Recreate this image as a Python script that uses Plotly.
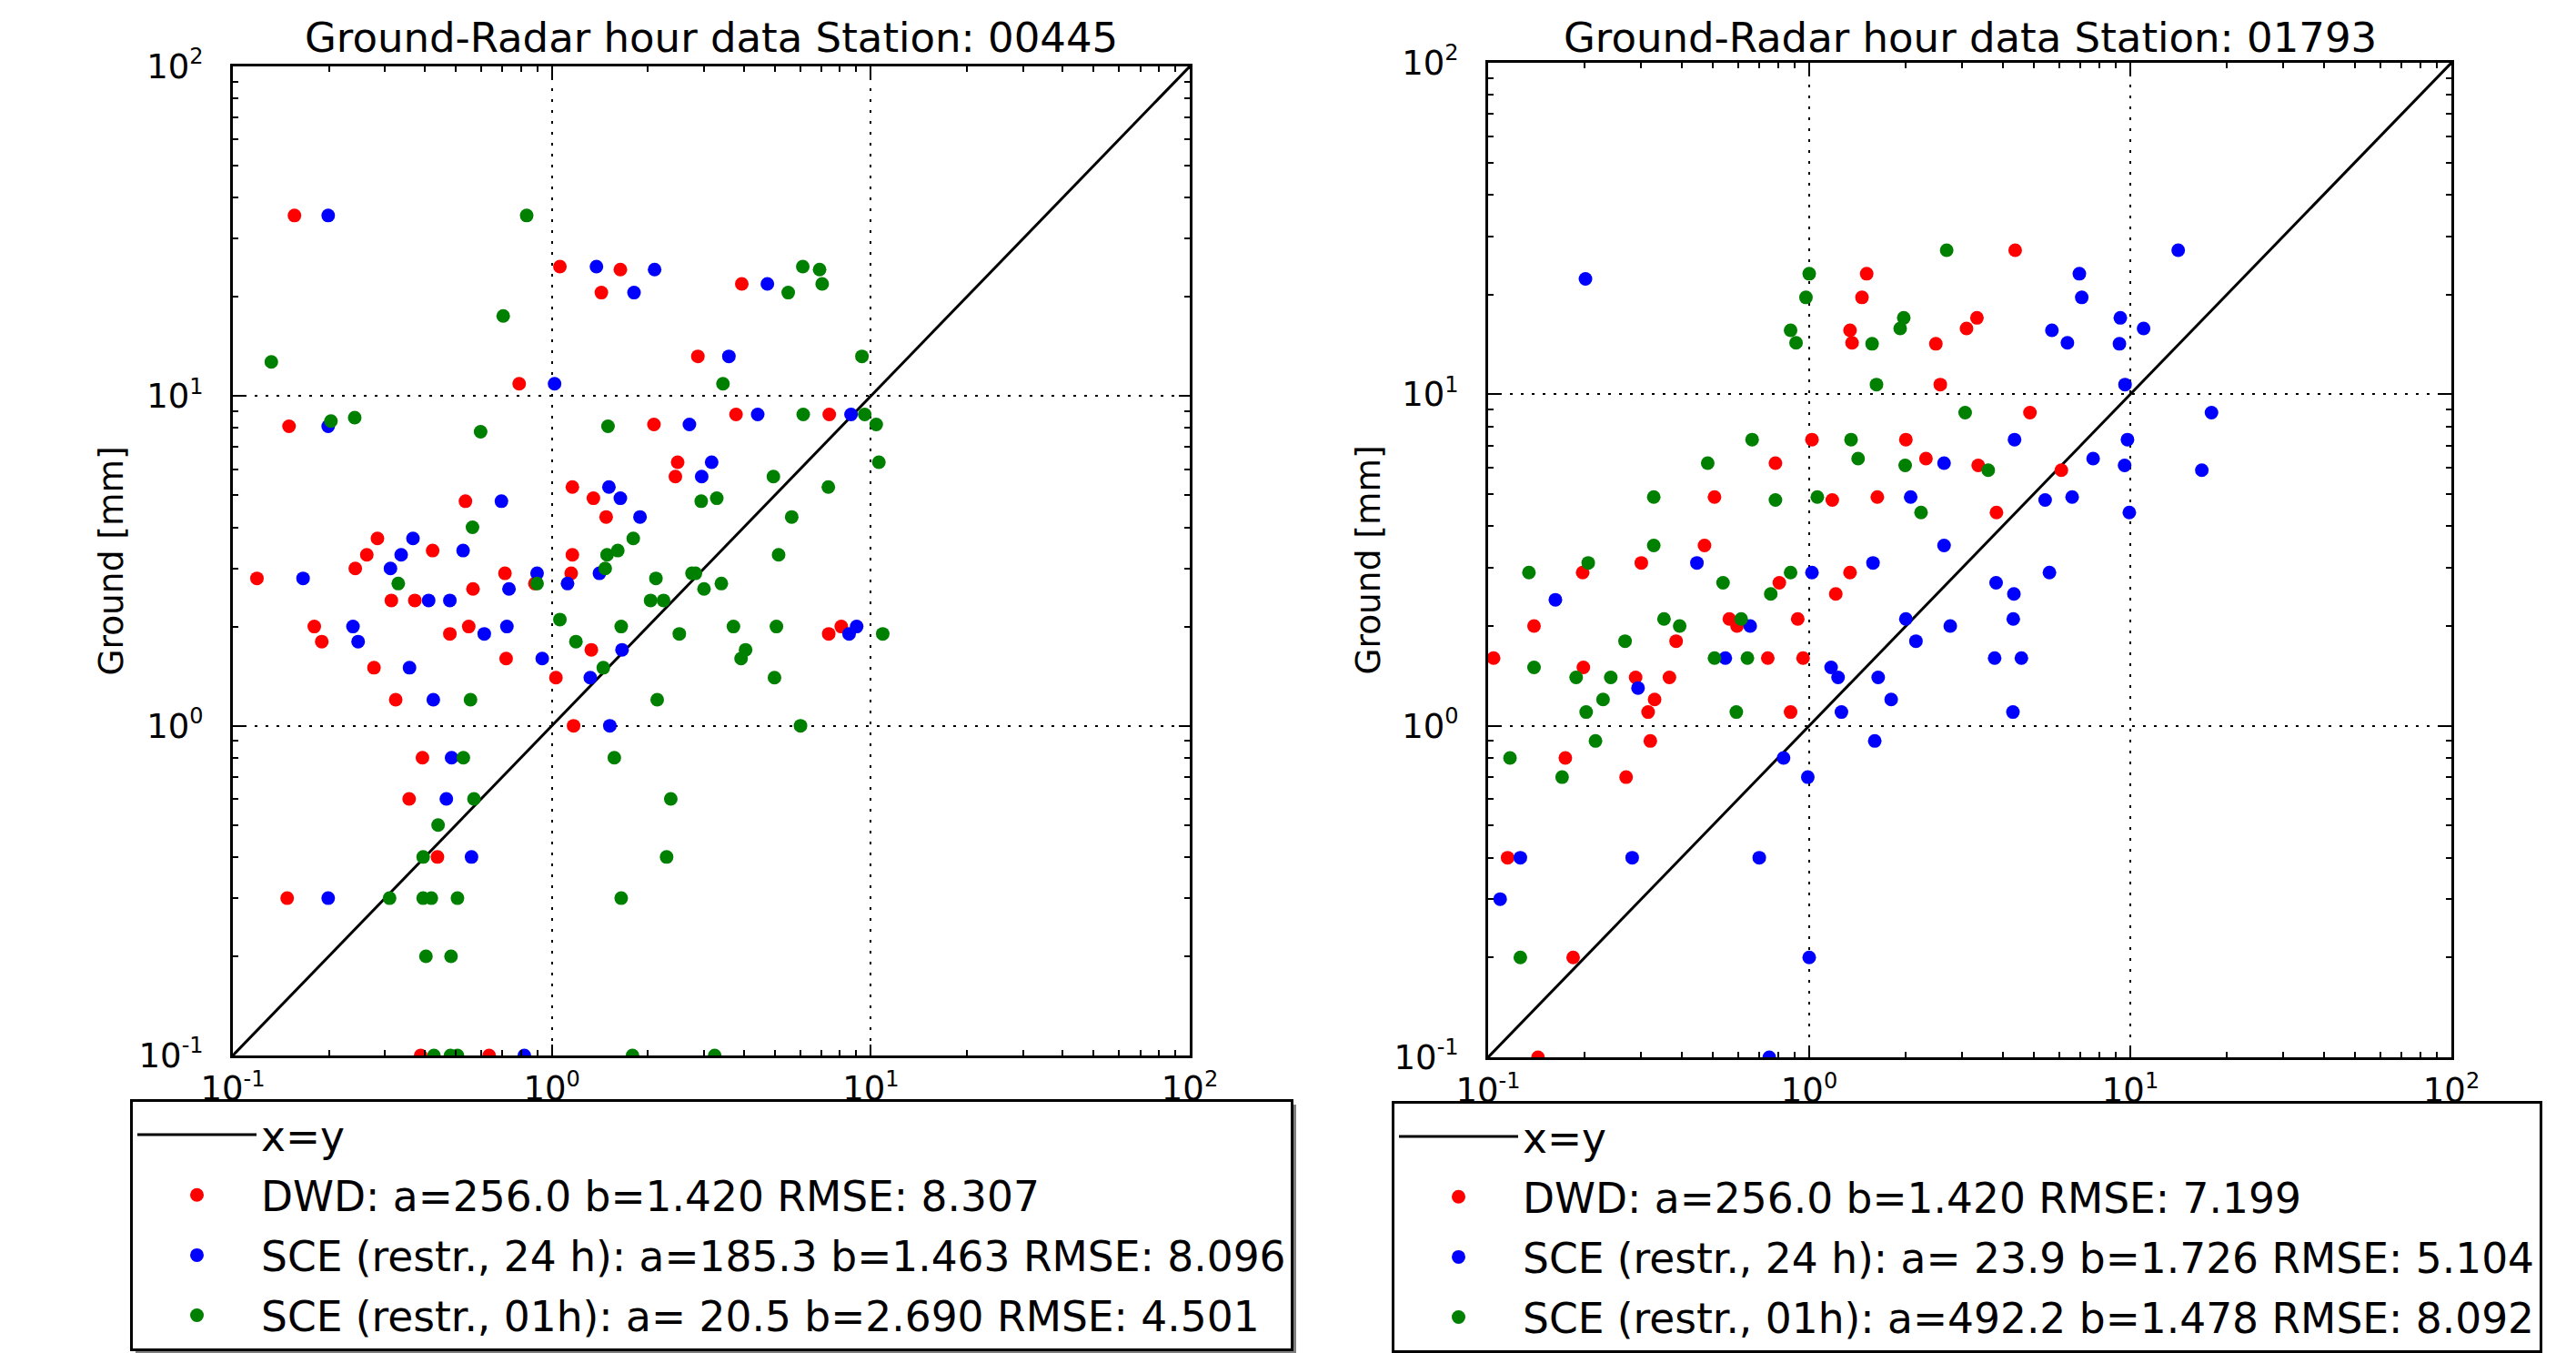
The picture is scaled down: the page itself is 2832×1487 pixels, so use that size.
import plotly.graph_objects as go

W, H = 2832, 1487
PAGE_OFFSET = 8  # default body margin of the html page
FONT = "DejaVu Sans"

# ---------------- data ----------------
titles = ["Ground-Radar hour data Station: 00445", "Ground-Radar hour data Station: 01793"]
ylabel = "Ground [mm]"

names_left = ["x=y",
              "DWD: a=256.0 b=1.420 RMSE: 8.307",
              "SCE (restr., 24 h): a=185.3 b=1.463 RMSE: 8.096",
              "SCE (restr., 01h): a= 20.5 b=2.690 RMSE: 4.501"]
names_right = ["x=y",
               "DWD: a=256.0 b=1.420 RMSE: 7.199",
               "SCE (restr., 24 h): a= 23.9 b=1.726 RMSE: 5.104",
               "SCE (restr., 01h): a=492.2 b=1.478 RMSE: 8.092"]

diag = [0.1, 100]

# Station 00445
dwd1_x = [0.156, 1.06, 1.64, 1.43, 3.94, 2.87, 0.79, 0.150, 2.09, 3.78, 7.41, 2.48, 2.44, 1.16, 1.35,
          0.536, 1.48, 0.284, 0.263, 0.423, 1.16, 0.242, 0.119, 0.713, 1.15, 0.885, 0.566, 0.314,
          0.372, 0.180, 0.549, 0.479, 8.08, 7.38, 0.190, 0.277, 0.719, 1.33, 1.03, 0.324, 1.17,
          0.393, 0.357, 0.438, 0.148, 0.388, 0.636]
dwd1_y = [35.3, 24.7, 24.2, 20.6, 21.9, 13.2, 10.9, 8.1, 8.2, 8.8, 8.8, 6.3, 5.7, 5.3, 4.9,
          4.8, 4.3, 3.7, 3.3, 3.4, 3.3, 3.0, 2.8, 2.9, 2.9, 2.7, 2.6, 2.4,
          2.4, 2.0, 2.0, 1.9, 2.0, 1.9, 1.8, 1.5, 1.6, 1.7, 1.4, 1.2, 1.0,
          0.8, 0.6, 0.4, 0.3, 0.1, 0.1]

sce24_1_x = [0.199, 1.38, 2.10, 1.81, 4.74, 3.59, 1.02, 0.199, 2.70, 4.42, 8.67, 3.17, 2.95, 1.51,
             1.64, 0.695, 1.89, 0.367, 0.337, 0.527, 0.312, 0.166, 0.899, 1.41, 1.12, 0.734, 0.411,
             0.479, 0.238, 0.723, 0.614, 9.03, 8.55, 0.247, 0.358, 0.933, 1.66, 1.32, 0.425, 1.52,
             0.485, 0.467, 0.560, 0.199, 0.82]
sce24_1_y = [35.3, 24.7, 24.2, 20.6, 21.9, 13.2, 10.9, 8.1, 8.2, 8.8, 8.8, 6.3, 5.7, 5.3,
             4.9, 4.8, 4.3, 3.7, 3.3, 3.4, 3.0, 2.8, 2.9, 2.9, 2.7, 2.6, 2.4,
             2.4, 2.0, 2.0, 1.9, 2.0, 1.9, 1.8, 1.5, 1.6, 1.7, 1.4, 1.2, 1.0,
             0.8, 0.6, 0.4, 0.3, 0.1]

sce01_1_x = [0.834, 6.12, 6.91, 7.04, 5.51, 0.704, 0.132, 9.38, 3.44, 0.203, 0.241, 0.598, 1.50,
             6.14, 9.57, 10.4, 10.6, 4.95, 7.36, 2.94, 3.29, 5.65, 0.564, 1.80, 1.49, 1.61, 5.14,
             1.47, 0.330, 0.899, 2.12, 2.75, 2.82, 3.00, 3.40, 2.04, 2.24, 1.06, 1.65, 3.71, 5.06,
             2.51, 10.9, 1.19, 4.05, 3.92, 1.45, 4.99, 0.556, 2.14, 6.02, 0.528, 1.57, 0.570, 2.36,
             0.440, 0.395, 2.29, 0.310, 0.395, 0.419, 0.506, 1.65, 0.403, 0.483, 0.427, 0.481,
             0.506, 1.79, 3.24]
sce01_1_y = [35.3, 24.7, 24.2, 21.9, 20.6, 17.5, 12.7, 13.2, 10.9, 8.4, 8.6, 7.8, 8.1,
             8.8, 8.8, 8.2, 6.3, 5.7, 5.3, 4.8, 4.9, 4.3, 4.0, 3.7, 3.3, 3.4, 3.3,
             3.0, 2.7, 2.7, 2.8, 2.9, 2.9, 2.6, 2.7, 2.4, 2.4, 2.1, 2.0, 2.0, 2.0,
             1.9, 1.9, 1.8, 1.7, 1.6, 1.5, 1.4, 1.2, 1.2, 1.0, 0.8, 0.8, 0.6, 0.6,
             0.5, 0.4, 0.4, 0.3, 0.3, 0.3, 0.3, 0.3, 0.2, 0.2, 0.1, 0.1,
             0.1, 0.1, 0.1]

# Station 01793
dwd2_x = [4.38, 1.51, 1.46, 1.34, 3.33, 3.09, 1.36, 2.48, 2.56, 4.87, 1.02, 2.00, 0.785, 2.31, 3.36,
          6.10, 0.507, 1.18, 1.63, 3.83, 0.472, 0.300, 0.197, 1.34, 0.807, 1.21, 0.139, 0.564,
          0.596, 0.921, 0.385, 0.104, 0.743, 0.957, 0.198, 0.288, 0.367, 0.330, 0.315, 0.875,
          0.320, 0.174, 0.269, 0.115, 0.184, 0.143]
dwd2_y = [27.2, 23.1, 19.6, 15.6, 17.0, 15.8, 14.3, 14.2, 10.7, 8.8, 7.3, 7.3, 6.2, 6.4, 6.1,
          5.9, 4.9, 4.8, 4.9, 4.4, 3.5, 3.1, 2.9, 2.9, 2.7, 2.5, 2.0, 2.1,
          2.0, 2.1, 1.8, 1.6, 1.6, 1.6, 1.5, 1.4, 1.4, 1.2, 1.1, 1.1,
          0.9, 0.8, 0.7, 0.4, 0.2, 0.1]

sce24_2_x = [0.201, 14.1, 6.94, 7.06, 9.31, 5.70, 11.0, 6.37, 9.25, 9.63, 17.9, 4.36, 9.80, 2.63,
             7.66, 9.60, 16.7, 2.07, 5.43, 6.59, 9.93, 2.63, 0.447, 1.58, 0.162, 1.02, 5.60, 3.82,
             4.34, 2.0, 2.75, 4.32, 0.655, 2.15, 0.548, 3.78, 4.58, 1.17, 1.23, 1.64, 0.293, 1.80,
             1.26, 4.31, 1.60, 0.832, 0.99, 0.126, 0.281, 0.699, 0.109, 1.0, 0.751]
sce24_2_y = [22.3, 27.2, 23.1, 19.6, 17.0, 15.6, 15.8, 14.3, 14.2, 10.7, 8.8, 7.3, 7.3, 6.2,
             6.4, 6.1, 5.9, 4.9, 4.8, 4.9, 4.4, 3.5, 3.1, 3.1, 2.4, 2.9, 2.9, 2.7,
             2.5, 2.1, 2.0, 2.1, 2.0, 1.8, 1.6, 1.6, 1.6, 1.5, 1.4, 1.4, 1.3, 1.2,
             1.1, 1.1, 0.9, 0.8, 0.7, 0.4, 0.4, 0.4, 0.3, 0.2, 0.1]

sce01_2_x = [2.68, 1.0, 0.977, 1.97, 1.92, 0.875, 0.91, 1.57, 1.62, 3.06, 0.664, 1.35, 0.483, 1.42,
             1.99, 3.61, 0.328, 0.785, 1.06, 2.23, 0.328, 0.205, 0.134, 0.875, 0.539, 0.759, 0.353,
             0.395, 0.614, 0.267, 0.507, 0.642, 0.139, 0.188, 0.241, 0.228, 0.202, 0.593, 0.216,
             0.117, 0.170, 0.126]
sce01_2_y = [27.2, 23.1, 19.6, 17.0, 15.8, 15.6, 14.3, 14.2, 10.7, 8.8, 7.3, 7.3, 6.2, 6.4,
             6.1, 5.9, 4.9, 4.8, 4.9, 4.4, 3.5, 3.1, 2.9, 2.9, 2.7, 2.5, 2.1,
             2.0, 2.1, 1.8, 1.6, 1.6, 1.5, 1.4, 1.4, 1.2, 1.1, 1.1, 0.9,
             0.8, 0.7, 0.2]

tick_vals = [0.1, 1, 10, 100]
tick_exps = ["-1", "0", "1", "2"]
tick_text = ['10<sup><span style="font-size:24px">%s</span></sup>' % e for e in tick_exps]
minor_vals = [m * e for e in (0.1, 1, 10) for m in range(2, 10)]

colors = ["red", "blue", "green"]

# ---------------- layout geometry (screen pixels) ----------------
panels = [
    dict(x0=256, x1=1308, y0=73, y1=1160, legend=(143, 1208), legend_r=1419, ylab_x=121),
    dict(x0=1636, x1=2695, y0=69, y1=1162, legend=(1530, 1210), legend_r=2786, ylab_x=1503),
]

def px(x):
    return (x - PAGE_OFFSET) / W

def py(y):
    return 1 - (y - PAGE_OFFSET) / H

fig = go.Figure()

series = [
    (names_left, [(dwd1_x, dwd1_y), (sce24_1_x, sce24_1_y), (sce01_1_x, sce01_1_y)]),
    (names_right, [(dwd2_x, dwd2_y), (sce24_2_x, sce24_2_y), (sce01_2_x, sce01_2_y)]),
]

for i, (names, data) in enumerate(series):
    xa = "x" if i == 0 else "x2"
    ya = "y" if i == 0 else "y2"
    lg = "legend" if i == 0 else "legend2"
    fig.add_trace(go.Scatter(x=diag, y=diag, mode="lines", name=names[0],
                             line=dict(color="black", width=3), xaxis=xa, yaxis=ya,
                             legend=lg, legendgroup=f"{i}a"))
    for k, ((sx, sy), c) in enumerate(zip(data, colors)):
        fig.add_trace(go.Scatter(x=sx, y=sy, mode="markers", name=names[k + 1],
                                 marker=dict(color=c, size=15, line=dict(width=0)),
                                 xaxis=xa, yaxis=ya, legend=lg, legendgroup=f"{i}{k}"))


def axis(domain, anchor, standoff):
    return dict(
        type="log", range=[-1, 2], domain=domain, anchor=anchor,
        showline=True, linecolor="black", linewidth=3, mirror="allticks",
        ticks="inside", ticklen=12, tickwidth=2, tickcolor="black",
        tickmode="array", tickvals=tick_vals, ticktext=tick_text,
        tickfont=dict(family=FONT, size=37, color="black"),
        ticklabelstandoff=standoff,
        showgrid=True, gridcolor="black", gridwidth=2, griddash="3px,9px",
        minor=dict(tickmode="array", tickvals=minor_vals, ticks="inside", ticklen=6,
                   tickwidth=2, tickcolor="black", showgrid=False),
        zeroline=False, automargin=False,
    )

layout = dict(width=W, height=H, margin=dict(l=0, r=0, t=0, b=0, autoexpand=False),
              paper_bgcolor="white", plot_bgcolor="white", showlegend=True,
              font=dict(family=FONT, color="black"))

annotations = []
shapes = []
for i, p in enumerate(panels):
    sfx = "" if i == 0 else "2"
    xd = [px(p["x0"]), px(p["x1"])]
    yd = [py(p["y1"]), py(p["y0"])]
    layout["xaxis" + sfx] = axis(xd, "y" + sfx, 2)
    layout["yaxis" + sfx] = axis(yd, "x" + sfx, 22)
    lx, ly = p["legend"]
    layout["legend" + sfx] = dict(
        x=px(lx), y=py(ly), xanchor="left", yanchor="top",
        bgcolor="white", bordercolor="black", borderwidth=3,
        font=dict(family=FONT, size=45.5, color="black"),
        itemwidth=131, tracegroupgap=4, traceorder="grouped",
    )
    # legend drop shadow
    shapes.append(dict(type="rect", xref="paper", yref="paper",
                       x0=px(lx + 6), x1=px(p["legend_r"] + 6), y0=py(ly + 300), y1=py(ly + 6),
                       fillcolor="#7f7f7f", line=dict(width=0), layer="below"))
    annotations.append(dict(text=titles[i], x=(xd[0] + xd[1]) / 2, y=py(42), xref="paper",
                            yref="paper", xanchor="center", yanchor="middle", showarrow=False,
                            font=dict(family=FONT, size=45, color="black")))
    annotations.append(dict(text=ylabel, x=px(p["ylab_x"]), y=(yd[0] + yd[1]) / 2, xref="paper",
                            yref="paper", xanchor="center", yanchor="middle", showarrow=False,
                            textangle=-90, font=dict(family=FONT, size=37.5, color="black")))

layout["annotations"] = annotations
layout["shapes"] = shapes
fig.update_layout(**layout)
fig.write_html("out.html")
